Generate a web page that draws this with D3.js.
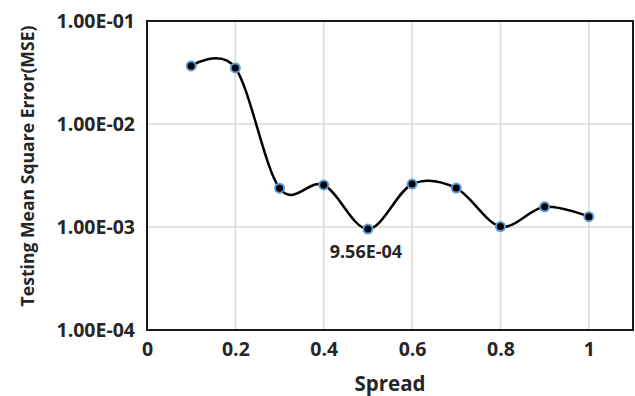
<!DOCTYPE html>
<html>
<head>
<meta charset="utf-8">
<script src="https://cdn.jsdelivr.net/npm/d3@7"></script>
<style>
  body { margin: 0; background: #fff; }
  text { font-family: "Open Sans", "Noto Sans", sans-serif; font-weight: bold; fill: #262626; }
</style>
</head>
<body>
<div id="chart"></div>
<script>
// Data
const spread = [0.1, 0.2, 0.3, 0.4, 0.5, 0.6, 0.7, 0.8, 0.9, 1.0];
const mse = [0.0366, 0.0350, 0.00238, 0.00256, 0.000956, 0.00261, 0.00239, 0.00101, 0.00157, 0.00126];
const xTicks = [0, 0.2, 0.4, 0.6, 0.8, 1];
const yTicks = [1e-4, 1e-3, 1e-2, 1e-1];

const width = 635;
const height = 396;
const margin = { top: 21, right: 2, bottom: 66, left: 147 };

const svg = d3.select("#chart")
    .append("svg")
    .attr("width", width)
    .attr("height", height);

// Scales
const x = d3.scaleLinear()
    .domain([0, 1.1])
    .range([margin.left, width - margin.right]);

const y = d3.scaleLog()
    .domain([1e-4, 1e-1])
    .range([height - margin.bottom, margin.top]);

const sci = d => d.toExponential(2).toUpperCase().replace(/E([+-])(\d)$/, "E$10$2");

// Gridlines
svg.append("g")
    .selectAll("line")
    .data(xTicks.filter(d => d > 0))
    .enter()
    .append("line")
    .attr("x1", d => x(d))
    .attr("x2", d => x(d))
    .attr("y1", margin.top)
    .attr("y2", height - margin.bottom)
    .attr("stroke", "#d9d9d9")
    .attr("stroke-width", 1.5);

svg.append("g")
    .selectAll("line")
    .data(yTicks.slice(1, -1))
    .enter()
    .append("line")
    .attr("x1", margin.left)
    .attr("x2", width - margin.right)
    .attr("y1", d => y(d))
    .attr("y2", d => y(d))
    .attr("stroke", "#d9d9d9")
    .attr("stroke-width", 1.5);

// Plot frame
svg.append("rect")
    .attr("x", margin.left)
    .attr("y", margin.top)
    .attr("width", width - margin.right - margin.left)
    .attr("height", height - margin.bottom - margin.top)
    .attr("fill", "none")
    .attr("stroke", "#1a1a1a")
    .attr("stroke-width", 2);

// Axes (labels only)
const xAxis = svg.append("g")
    .attr("transform", `translate(0, ${height - margin.bottom})`)
    .call(d3.axisBottom(x).tickValues(xTicks).tickSize(0).tickPadding(12).tickFormat(d3.format("")));
xAxis.select(".domain").remove();
xAxis.selectAll("text").attr("font-size", "19.5px").attr("font-family", null);

const yAxis = svg.append("g")
    .attr("transform", `translate(${margin.left}, 0)`)
    .call(d3.axisLeft(y).tickValues(yTicks).tickSize(0).tickPadding(12).tickFormat(sci));
yAxis.select(".domain").remove();
yAxis.selectAll("text").attr("font-size", "19.5px").attr("font-family", null);

// Axis titles
svg.append("text")
    .attr("x", (margin.left + width - margin.right) / 2)
    .attr("y", 391)
    .attr("text-anchor", "middle")
    .attr("font-size", "20.5px")
    .text("Spread");

svg.append("text")
    .attr("transform", `translate(34, 166) rotate(-90)`)
    .attr("text-anchor", "middle")
    .attr("font-size", "17.6px")
    .text("Testing Mean Square Error(MSE)");

// Smoothed line
const points = spread.map((s, i) => [s, mse[i]]);
const line = d3.line()
    .x(d => x(d[0]))
    .y(d => y(d[1]))
    .curve(d3.curveCardinal.tension(0));

svg.append("path")
    .datum(points)
    .attr("d", line)
    .attr("fill", "none")
    .attr("stroke", "#000")
    .attr("stroke-width", 2.5);

// Markers
svg.selectAll(".dot")
    .data(points)
    .enter()
    .append("circle")
    .attr("cx", d => x(d[0]))
    .attr("cy", d => y(d[1]))
    .attr("r", 4.5)
    .attr("fill", "#000")
    .attr("stroke", "#5b9bd5")
    .attr("stroke-width", 2);

// Minimum annotation
const minIdx = d3.minIndex(mse);
svg.append("text")
    .attr("x", x(spread[minIdx]) - 2)
    .attr("y", y(mse[minIdx]) + 29)
    .attr("text-anchor", "middle")
    .attr("font-size", "18px")
    .text(sci(mse[minIdx]));
</script>
</body>
</html>
